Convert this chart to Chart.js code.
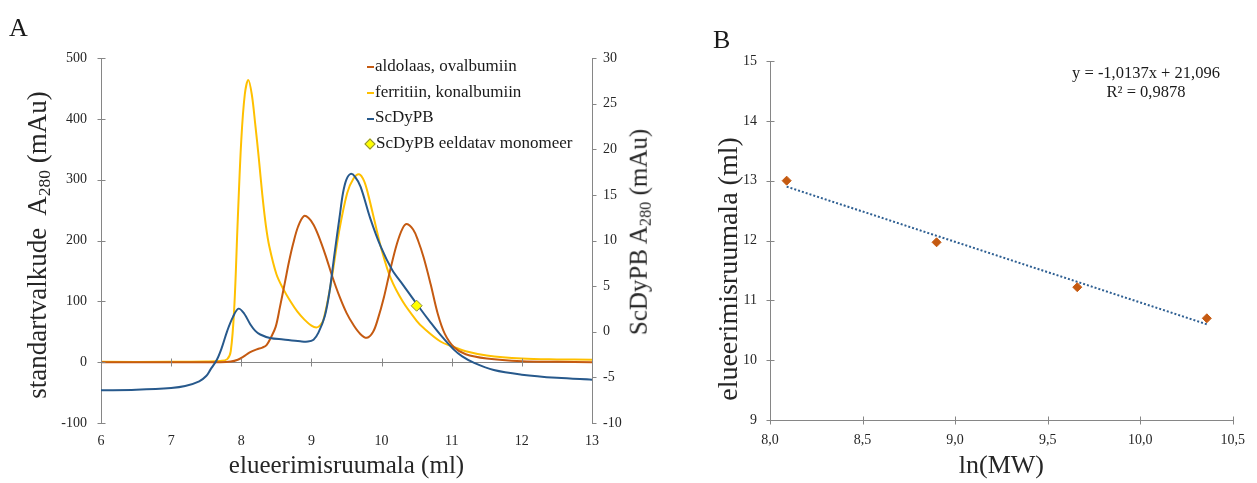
<!DOCTYPE html>
<html lang="et">
<head>
<meta charset="UTF-8">
<title>ScDyPB geelfiltratsioon</title>
<script src="https://cdn.jsdelivr.net/npm/chart.js"></script>
<style>
    body { margin: 0; background: #fff; font-family: "Liberation Serif", "Times New Roman", serif; color: #1a1a1a; }
    #wrap { position: relative; width: 1257px; height: 483px; overflow: hidden; }
    canvas { position: absolute; top: 0; }
    #chartA { left: 0; }
    #chartB { left: 680px; }
    .panel { position: absolute; font-size: 26px; line-height: 1; }
    .vtitle { position: absolute; white-space: nowrap; line-height: 1.2; transform: translate(-50%, -50%) rotate(-90deg); color: #262626; }
    .vtitle sub { font-size: 0.65em; vertical-align: -0.25em; }
    #legendA { position: absolute; left: 367px; top: 53px; font-size: 17px; line-height: 25.7px; white-space: nowrap; }
    #legendA .sym { display: inline-block; vertical-align: middle; margin-right: 1px; }
    #eqB { position: absolute; left: 1146px; top: 64px; transform: translateX(-50%); text-align: center; font-size: 16.5px; line-height: 18.5px; white-space: nowrap; }
</style>
</head>
<body>
<div id="wrap">
    <canvas id="chartA" width="640" height="483"></canvas>
    <canvas id="chartB" width="577" height="483"></canvas>

    <div class="panel" style="left:9px; top:15px;">A</div>
    <div class="panel" style="left:713px; top:27px;">B</div>

    <!-- rotated axis titles (subscripts need html) -->
    <div class="vtitle" style="left:38px; top:245px; font-size:27px;">standartvalkude&nbsp; A<sub>280</sub> (mAu)</div>
    <div class="vtitle" style="left:640px; top:232px; font-size:25px;">ScDyPB A<sub>280</sub> (mAu)</div>
    <div class="vtitle" style="left:728px; top:269px; font-size:28px;">elueerimisruumala (ml)</div>

    <div id="legendA"></div>
    <div id="eqB">y = -1,0137x + 21,096<br>R² = 0,9878</div>
</div>

<script>
    // A: elution profiles (x = ml)
    const aldX = [6, 7, 7.7, 7.85, 7.95, 8.03, 8.12, 8.22, 8.3, 8.36, 8.42, 8.49, 8.55, 8.62, 8.68, 8.74, 8.81, 8.89, 8.96, 9.03, 9.1, 9.2, 9.3, 9.4, 9.5, 9.6, 9.7, 9.79, 9.88, 9.95, 10.03, 10.12, 10.22, 10.3, 10.36, 10.45, 10.52, 10.6, 10.7, 10.8, 10.9, 11.03, 11.2, 11.5, 12, 12.5, 13];
    const aldY = [0, 0, 0, 1, 4, 9, 16, 21, 24, 28, 40, 58, 90, 130, 165, 195, 223, 240, 237, 226, 208, 176, 140, 108, 81, 61, 46, 40, 50, 72, 105, 150, 195, 220, 227, 218, 200, 172, 128, 80, 47, 25, 13, 6, 1.5, 0.5, 0];

    const ferX = [6, 7, 7.5, 7.7, 7.8, 7.85, 7.9, 7.95, 8.0, 8.05, 8.1, 8.15, 8.2, 8.25, 8.3, 8.35, 8.4, 8.5, 8.6, 8.7, 8.8, 8.9, 9.0, 9.07, 9.12, 9.17, 9.27, 9.39, 9.51, 9.6, 9.68, 9.75, 9.81, 9.9, 10.0, 10.13, 10.3, 10.5, 10.6, 10.84, 11.03, 11.2, 11.5, 12, 12.5, 13];
    const ferY = [0.5, 0.5, 1, 2, 5, 18, 90, 235, 365, 440, 464, 440, 390, 335, 275, 225, 190, 145, 120, 100, 83, 70, 60, 57, 60, 69, 124, 212, 278, 302, 309, 298, 275, 232, 185, 138, 100, 68, 56, 34, 25, 18, 11, 6, 4.5, 4];

    // ScDyPB is read on the right axis
    const scX = [6, 6.5, 7, 7.2, 7.4, 7.5, 7.56, 7.65, 7.72, 7.8, 7.88, 7.96, 8.04, 8.13, 8.2, 8.27, 8.41, 8.6, 8.84, 8.95, 9.03, 9.1, 9.19, 9.26, 9.33, 9.4, 9.45, 9.5, 9.56, 9.62, 9.7, 9.84, 9.99, 10.15, 10.3, 10.52, 10.7, 10.84, 11.03, 11.15, 11.32, 11.6, 12, 12.5, 13];
    const scY = [-6.42, -6.35, -6.16, -5.95, -5.43, -4.85, -4.15, -3.1, -1.8, 0.1, 1.6, 2.53, 2.0, 0.8, 0.1, -0.3, -0.68, -0.85, -1.05, -1.08, -0.87, -0.1, 1.69, 4.5, 8.6, 12.5, 15.2, 16.7, 17.3, 17.0, 15.9, 12.4, 9.3, 6.8, 5.2, 2.85, 1.0, -0.35, -1.96, -2.7, -3.42, -4.2, -4.7, -5.05, -5.25];

    const monoX = [10.5];
    const monoY = [2.85];

    // B: calibration
    const lnMW = [8.09, 8.90, 9.66, 10.36];
    const elutionVol = [13.0, 11.97, 11.22, 10.70];
    const trendX = [8.09, 10.36];
    const trendY = [12.9, 10.6];

    const ORANGE = '#c55a11';
    const YELLOW = '#ffc000';
    const BLUE = '#27598c';
    const GRAY = '#868686';
    const TEXT = '#262626';
    const FONT = '"Liberation Serif", "Times New Roman", serif';

    const toPoints = (xs, ys) => xs.map((x, i) => ({ x: x, y: ys[i] }));
    const tickFont = { family: FONT, size: 14 };

    // small tick marks crossing the axis lines
    const crossTicks = {
        id: 'crossTicks',
        afterDraw(chart, args, opts) {
            if (!opts.marks) return;
            const ctx = chart.ctx;
            ctx.save();
            ctx.strokeStyle = GRAY;
            ctx.lineWidth = 1;
            for (const m of opts.marks) {
                const s = chart.scales[m.scale];
                let at;
                if (m.crossScale) at = chart.scales[m.crossScale].getPixelForValue(m.crossValue);
                else if (m.edge === 'right') at = s.left;
                else if (m.edge === 'bottom') at = s.top;
                else at = s.right;
                at = Math.round(at) + 0.5;
                for (const t of s.ticks) {
                    const p = Math.round(s.getPixelForValue(t.value)) + 0.5;
                    ctx.beginPath();
                    if (s.isHorizontal()) { ctx.moveTo(p, at - m.inner); ctx.lineTo(p, at + m.outer); }
                    else if (m.edge === 'right') { ctx.moveTo(at - m.inner, p); ctx.lineTo(at + m.outer, p); }
                    else { ctx.moveTo(at - m.outer, p); ctx.lineTo(at + m.inner, p); }
                    ctx.stroke();
                }
            }
            ctx.restore();
        }
    };
    Chart.register(crossTicks);

    const chartA = new Chart(document.getElementById('chartA'), {
        type: 'scatter',
        data: {
            datasets: [
                { label: 'ScDyPB eeldatav monomeer', data: toPoints(monoX, monoY), yAxisID: 'y2', showLine: false,
                  pointStyle: 'rectRot', pointRadius: 5.5, backgroundColor: '#ffff00', borderColor: '#8c8c3c', borderWidth: 1, order: 0 },
                { label: 'ScDyPB', data: toPoints(scX, scY), yAxisID: 'y2', showLine: true, borderColor: BLUE, order: 1 },
                { label: 'aldolaas, ovalbumiin', data: toPoints(aldX, aldY), yAxisID: 'y', showLine: true, borderColor: ORANGE, order: 2 },
                { label: 'ferritiin, konalbumiin', data: toPoints(ferX, ferY), yAxisID: 'y', showLine: true, borderColor: YELLOW, order: 3 }
            ]
        },
        options: {
            responsive: false,
            animation: false,
            layout: { padding: { top: 58, left: 0, right: 0, bottom: 0 } },
            elements: {
                point: { radius: 0 },
                line: { borderWidth: 2, tension: 0.35, fill: false }
            },
            plugins: {
                legend: { display: false },
                tooltip: { enabled: false },
                crossTicks: { marks: [
                    { scale: 'x', crossScale: 'y', crossValue: 0, inner: 4, outer: 4 },
                    { scale: 'y', edge: 'left', inner: 4, outer: 4 },
                    { scale: 'y2', edge: 'right', inner: 0, outer: 4 }
                ] }
            },
            scales: {
                x: {
                    type: 'linear', min: 6, max: 13,
                    ticks: { stepSize: 1, padding: 10, color: TEXT, font: tickFont },
                    grid: { display: false, drawTicks: false },
                    border: { display: false },
                    title: { display: true, text: 'elueerimisruumala (ml)', color: TEXT, font: { family: FONT, size: 25 }, padding: { top: 0, bottom: 2 } },
                    afterFit: s => { s.height = 60; }
                },
                y: {
                    position: 'left', min: -100, max: 500,
                    ticks: { stepSize: 100, padding: 14, color: TEXT, font: tickFont },
                    grid: { drawTicks: false, color: c => (c.tick && c.tick.value === 0) ? GRAY : 'rgba(0,0,0,0)' },
                    border: { display: true, color: GRAY },
                    afterFit: s => { s.width = 101; }
                },
                y2: {
                    position: 'right', min: -10, max: 30,
                    ticks: { stepSize: 5, padding: 11, color: TEXT, font: tickFont },
                    grid: { drawOnChartArea: false, drawTicks: false },
                    border: { display: true, color: GRAY },
                    afterFit: s => { s.width = 48; }
                }
            }
        }
    });

    // legend for A, built from the datasets
    const legendOrder = ['aldolaas, ovalbumiin', 'ferritiin, konalbumiin', 'ScDyPB', 'ScDyPB eeldatav monomeer'];
    const legendEl = document.getElementById('legendA');
    legendOrder.forEach(name => {
        const ds = chartA.data.datasets.find(d => d.label === name);
        const row = document.createElement('div');
        const sym = document.createElement('span');
        sym.className = 'sym';
        if (ds.showLine) {
            sym.style.cssText = `width:7px;height:2px;background:${ds.borderColor};`;
        } else {
            sym.style.cssText = `width:6px;height:6px;background:${ds.backgroundColor};border:1px solid ${ds.borderColor};transform:rotate(45deg);margin:0 2px 0 -1px;`;
        }
        row.appendChild(sym);
        row.appendChild(document.createTextNode(ds.label));
        legendEl.appendChild(row);
    });

    new Chart(document.getElementById('chartB'), {
        type: 'scatter',
        data: {
            datasets: [
                { label: 'standardid', data: toPoints(lnMW, elutionVol), showLine: false, pointStyle: 'rectRot',
                  pointRadius: 4.5, backgroundColor: ORANGE, borderColor: ORANGE, borderWidth: 1, order: 0 },
                { label: 'trend', data: toPoints(trendX, trendY), showLine: true, pointRadius: 0,
                  borderColor: '#2e5f92', borderWidth: 2, borderDash: [2, 2], order: 1 }
            ]
        },
        options: {
            responsive: false,
            animation: false,
            layout: { padding: { top: 61, left: 0, right: 16, bottom: 0 } },
            plugins: {
                legend: { display: false },
                tooltip: { enabled: false },
                crossTicks: { marks: [
                    { scale: 'x', edge: 'bottom', inner: 4, outer: 4 },
                    { scale: 'y', edge: 'left', inner: 4, outer: 4 }
                ] }
            },
            scales: {
                x: {
                    type: 'linear', min: 8, max: 10.5,
                    ticks: { stepSize: 0.5, padding: 12, color: TEXT, font: tickFont, callback: v => v.toFixed(1).replace('.', ',') },
                    grid: { drawOnChartArea: false, drawTicks: false },
                    border: { display: true, color: GRAY },
                    title: { display: true, text: 'ln(MW)', color: TEXT, font: { family: FONT, size: 26 }, padding: { top: 0, bottom: 1 } },
                    afterFit: s => { s.height = 63; }
                },
                y: {
                    min: 9, max: 15,
                    ticks: { stepSize: 1, padding: 13, color: TEXT, font: tickFont },
                    grid: { drawOnChartArea: false, drawTicks: false },
                    border: { display: true, color: GRAY },
                    afterFit: s => { s.width = 90; }
                }
            }
        }
    });
</script>
</body>
</html>
